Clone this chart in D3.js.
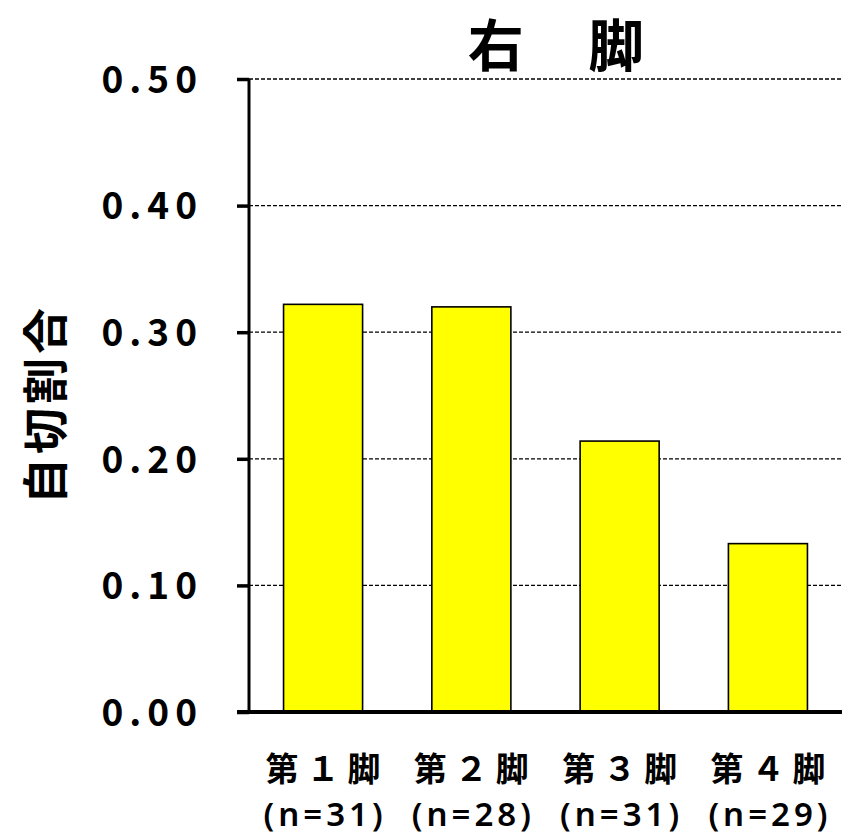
<!DOCTYPE html>
<html><head><meta charset="utf-8">
<script src="https://cdn.jsdelivr.net/npm/d3@7"></script>
<style>
body{margin:0;background:#fff;}
text{font-family:"Noto Sans CJK JP","Noto Sans",sans-serif;font-weight:700;fill:#000;}
</style></head><body>
<svg id="c" width="846" height="836"></svg>
<script>
const categories = ["第１脚","第２脚","第３脚","第４脚"];
const sampleLabels = ["(n=31)","(n=28)","(n=31)","(n=29)"];
const values = [0.322, 0.320, 0.214, 0.133];
const yTicks = [0, 0.1, 0.2, 0.3, 0.4, 0.5];
const title = "右 脚";
const yTitle = "自切割合";

const svg = d3.select("#c");
const m = {l:249, r:842, t:79, b:712};
const x = d3.scaleBand().domain(categories).range([m.l, m.r]).paddingInner(0.467).paddingOuter(0.233);
const y = d3.scaleLinear().domain([0, 0.5]).range([m.b, m.t]);

// gridlines
svg.append("g").selectAll("line").data(yTicks.filter(d=>d>0)).join("line")
  .attr("x1", m.l).attr("x2", m.r).attr("y1", d=>y(d)).attr("y2", d=>y(d))
  .attr("stroke","#000").attr("stroke-width",1.3).attr("stroke-dasharray","4,2");

// bars
svg.append("g").selectAll("rect").data(values).join("rect")
  .attr("x",(d,i)=>x(categories[i])).attr("width",x.bandwidth())
  .attr("y",d=>y(d)).attr("height",d=>y(0)-y(d))
  .attr("fill","#ffff00").attr("stroke","#000").attr("stroke-width",1.6);

// y axis
const yAxis = d3.axisLeft(y).tickValues(yTicks).tickFormat(d3.format(".2f")).tickSize(12).tickPadding(34);
const ga = svg.append("g").attr("transform",`translate(${m.l},0)`).call(yAxis);
ga.select(".domain").remove();
ga.selectAll(".tick line").attr("stroke","#000").attr("stroke-width",3.5);
ga.selectAll(".tick text").style("font-size","37px").style("letter-spacing","6px").attr("dy","0.36em");
svg.append("line").attr("x1",m.l).attr("x2",m.l).attr("y1",m.t).attr("y2",m.b)
  .attr("stroke","#000").attr("stroke-width",3);
svg.append("line").attr("x1",m.l-12).attr("x2",m.r).attr("y1",m.b).attr("y2",m.b)
  .attr("stroke","#000").attr("stroke-width",4);

// x labels
const gx = svg.append("g");
gx.selectAll("text.c").data(categories).join("text").attr("class","c")
  .attr("x",d=>x(d)+x.bandwidth()/2+4).attr("y",781).attr("text-anchor","middle")
  .style("font-size","33px").style("letter-spacing","8px").text(d=>d);
gx.selectAll("text.n").data(sampleLabels).join("text").attr("class","n")
  .attr("x",(d,i)=>x(categories[i])+x.bandwidth()/2+2).attr("y",826).attr("text-anchor","middle")
  .style("font-family","'Noto Sans',sans-serif").style("font-weight","600")
  .style("font-size","33px").style("letter-spacing","4px").text(d=>d);

// title
svg.append("text").attr("x",569).attr("y",66).attr("text-anchor","middle")
  .style("font-size","56px").style("letter-spacing","26px").text(title);

// y title
svg.append("text").attr("transform","translate(62,404) rotate(-90)").attr("text-anchor","middle")
  .style("font-size","46px").style("letter-spacing","4px").text(yTitle);
</script></body></html>
